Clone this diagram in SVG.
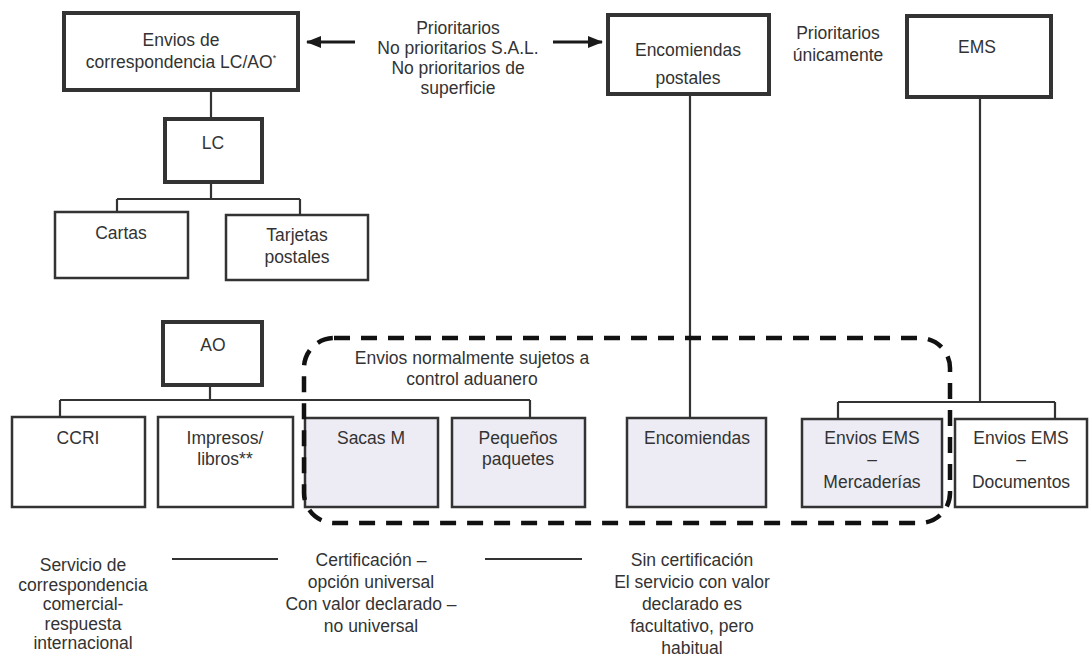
<svg xmlns="http://www.w3.org/2000/svg" width="1090" height="659" viewBox="0 0 1090 659">
<style>
  .box { fill: #ffffff; stroke: #333333; stroke-width: 2.5; }
  .thick { stroke-width: 4; }
  .shaded { fill: #edecf4; }
  .conn { stroke: #333333; stroke-width: 2.2; fill: none; }
  .arrow { stroke: #1a1a1a; stroke-width: 3; fill: none; }
  .dash { stroke: #111111; stroke-width: 4.5; stroke-dasharray: 16 11; fill: none; }
  text { font-family: "Liberation Sans", Arial, sans-serif; font-size: 17.5px; fill: #333333; text-anchor: middle; }
</style>
<defs>
  <marker id="arr" viewBox="0 0 15 12" refX="14" refY="6" markerWidth="15" markerHeight="12" markerUnits="userSpaceOnUse" orient="auto">
    <path d="M0,0 L15,6 L0,12 z" fill="#1a1a1a"/>
  </marker>
</defs>
<rect width="1090" height="659" fill="#ffffff"/>

<g id="connectors">
  <line class="arrow" x1="355" y1="42" x2="307" y2="42" marker-end="url(#arr)"/>
  <line class="arrow" x1="553" y1="42" x2="602" y2="42" marker-end="url(#arr)"/>
  <line class="conn" x1="211" y1="90" x2="211" y2="119"/>
  <path class="conn" d="M211,182 V199 M117,199 H300 M117,199 V212 M300,199 V215"/>
  <path class="conn" d="M210,385 V400 M60,400 H530 M60,400 V417 M530,400 V418"/>
  <line class="conn" x1="690" y1="94" x2="690" y2="418"/>
  <path class="conn" d="M980,97 V402 M838,402 H1055 M838,402 V419 M1055,402 V419"/>
</g>

<g id="envios-correspondencia">
  <rect class="box thick" x="64" y="13" width="234" height="77"/>
  <text x="181" y="46">Envios de</text>
  <text x="181" y="68">correspondencia LC/AO<tspan font-size="9" dy="-7">*</tspan></text>
</g>

<g id="clases-label">
  <text x="458" y="34">Prioritarios</text>
  <text x="458" y="54">No prioritarios S.A.L.</text>
  <text x="458" y="74">No prioritarios de</text>
  <text x="458" y="94">superficie</text>
</g>

<g id="encomiendas-postales">
  <rect class="box thick" x="608" y="15" width="161" height="79"/>
  <text x="688" y="56">Encomiendas</text>
  <text x="688" y="84">postales</text>
</g>

<g id="prioritarios-label">
  <text x="838" y="39">Prioritarios</text>
  <text x="838" y="61">únicamente</text>
</g>

<g id="ems">
  <rect class="box thick" x="907" y="16" width="144" height="81"/>
  <text x="977" y="53">EMS</text>
</g>

<g id="lc">
  <rect class="box thick" x="165" y="119" width="97" height="63"/>
  <text x="213" y="149">LC</text>
</g>

<g id="cartas">
  <rect class="box" x="55" y="212" width="133" height="66"/>
  <text x="121" y="239">Cartas</text>
</g>

<g id="tarjetas-postales">
  <rect class="box" x="226" y="215" width="142" height="65"/>
  <text x="297" y="241">Tarjetas</text>
  <text x="297" y="263">postales</text>
</g>

<g id="ao">
  <rect class="box thick" x="163" y="322" width="99" height="63"/>
  <text x="213" y="351">AO</text>
</g>

<g id="ccri">
  <rect class="box" x="12" y="417" width="133" height="90"/>
  <text x="78" y="444">CCRI</text>
</g>

<g id="impresos-libros">
  <rect class="box" x="158" y="417" width="135" height="90"/>
  <text x="225" y="444">Impresos/</text>
  <text x="225" y="465">libros**</text>
</g>

<g id="sacas-m">
  <rect class="box shaded" x="305" y="418" width="133" height="89"/>
  <text x="371" y="444">Sacas M</text>
</g>

<g id="pequenos-paquetes">
  <rect class="box shaded" x="452" y="418" width="133" height="89"/>
  <text x="518" y="444">Pequeños</text>
  <text x="518" y="465">paquetes</text>
</g>

<g id="encomiendas">
  <rect class="box shaded" x="627" y="418" width="139" height="89"/>
  <text x="697" y="444">Encomiendas</text>
</g>

<g id="ems-mercaderias">
  <rect class="box shaded" x="802" y="419" width="140" height="88"/>
  <text x="872" y="444">Envios EMS</text>
  <text x="872" y="465">–</text>
  <text x="872" y="488">Mercaderías</text>
</g>

<g id="ems-documentos">
  <rect class="box" x="955" y="419" width="132" height="88"/>
  <text x="1021" y="444">Envios EMS</text>
  <text x="1021" y="465">–</text>
  <text x="1021" y="488">Documentos</text>
</g>

<g id="control-aduanero">
  <rect class="dash" x="304" y="338" width="646" height="185" rx="30" ry="30"/>
  <text x="472" y="364">Envios normalmente sujetos a</text>
  <text x="472" y="385">control aduanero</text>
</g>

<g id="notas">
  <text x="83" y="571">Servicio de</text>
  <text x="83" y="590.5">correspondencia</text>
  <text x="83" y="610">comercial-</text>
  <text x="83" y="629.5">respuesta</text>
  <text x="83" y="649">internacional</text>
  <line class="conn" x1="172" y1="559" x2="278" y2="559"/>
  <text x="371" y="566">Certificación –</text>
  <text x="371" y="588">opción universal</text>
  <text x="371" y="610">Con valor declarado –</text>
  <text x="371" y="632">no universal</text>
  <line class="conn" x1="485" y1="559" x2="582" y2="559"/>
  <text x="692" y="566">Sin certificación</text>
  <text x="692" y="588">El servicio con valor</text>
  <text x="692" y="610">declarado es</text>
  <text x="692" y="632">facultativo, pero</text>
  <text x="692" y="654">habitual</text>
</g>
</svg>
